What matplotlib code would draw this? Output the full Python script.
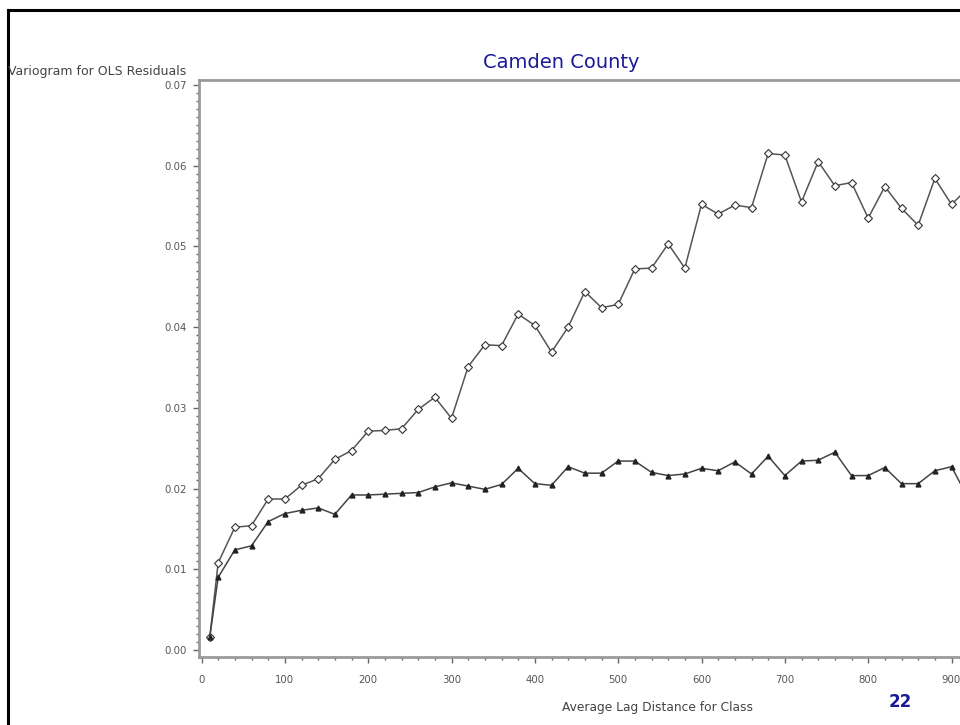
import matplotlib
matplotlib.use("Agg")
import matplotlib.pyplot as plt
from matplotlib.lines import Line2D
from matplotlib.ticker import MultipleLocator, FormatStrFormatter

W, H = 960, 725

lag = [10] + list(range(20, 940, 20))
ols_resid = [0.00165, 0.0108, 0.0152, 0.0154, 0.0187, 0.0187, 0.0204, 0.0212, 0.0236, 0.0247,
             0.0271, 0.0272, 0.0274, 0.0298, 0.0313, 0.0287, 0.0351, 0.0378, 0.0377, 0.0416,
             0.0402, 0.0369, 0.0400, 0.0444, 0.0424, 0.0428, 0.0472, 0.0473, 0.0503, 0.0473,
             0.0552, 0.0540, 0.0551, 0.0548, 0.0615, 0.0613, 0.0555, 0.0605, 0.0575, 0.0579,
             0.0535, 0.0574, 0.0547, 0.0526, 0.0584, 0.0552, 0.0572]
other_resid = [0.00165, 0.0090, 0.0124, 0.0129, 0.0159, 0.0169, 0.0173, 0.0176, 0.0168, 0.0192,
               0.0192, 0.0193, 0.0194, 0.0195, 0.0202, 0.0207, 0.0203, 0.0199, 0.0205, 0.0225,
               0.0206, 0.0204, 0.0227, 0.0219, 0.0219, 0.0234, 0.0234, 0.0220, 0.0216, 0.0218,
               0.0225, 0.0222, 0.0233, 0.0218, 0.0240, 0.0216, 0.0234, 0.0235, 0.0245, 0.0216,
               0.0216, 0.0226, 0.0206, 0.0206, 0.0222, 0.0227, 0.0188]

NAVY = "#1a1a99"
GREY_TXT = "#555555"

fig = plt.figure(figsize=(W / 100, H / 100), dpi=100)

# axes: left spine at x=199px, bottom at y=657px, top at y=80px; runs past the right edge
left, bottom, top = 199, 657, 80
ax = fig.add_axes([left / W, (H - bottom) / H, 780 / W, (bottom - top) / H])
ax.set_xlim(-3, 933)
ax.set_ylim(-0.00087, 0.0706)

ax.plot(lag, ols_resid, color="#555555", lw=1.1, marker="D", ms=4,
        mfc="white", mec="#333333", mew=0.8)
ax.plot(lag, other_resid, color="#444444", lw=1.1, marker="^", ms=3.5,
        mfc="#222222", mec="#222222")

ax.spines["right"].set_visible(False)
for side in ["left", "bottom", "top"]:
    ax.spines[side].set_color("#9a9a9a")
    ax.spines[side].set_linewidth(2)

ax.xaxis.set_major_locator(MultipleLocator(100))
ax.xaxis.set_minor_locator(MultipleLocator(20))
ax.yaxis.set_major_locator(MultipleLocator(0.01))
ax.yaxis.set_minor_locator(MultipleLocator(0.001))
ax.yaxis.set_major_formatter(FormatStrFormatter("%.2f"))
ax.tick_params(which="major", length=4, width=1, color="#666666",
               labelsize=7.3, labelcolor=GREY_TXT, pad=5)
ax.tick_params(which="minor", length=2.5, width=1, color="#666666")
ax.tick_params(axis="x", which="major", pad=9)

fig.text(8 / W, 1 - 72 / H, "Variogram for OLS Residuals", fontsize=9,
         color="#444444", ha="left", va="center")
fig.text(657 / W, 1 - 707 / H, "Average Lag Distance for Class", fontsize=8.8,
         color="#444444", ha="center", va="center")
fig.text(561 / W, 1 - 63 / H, "Camden County", fontsize=14, color=NAVY,
         ha="center", va="center")
fig.text(900 / W, 1 - 702 / H, "22", fontsize=12, color=NAVY, fontweight="bold",
         ha="center", va="center")

# slide frame
fig.add_artist(Line2D([8 / W, 8 / W], [0, 1 - 10 / H], color="black", lw=2.2,
                      transform=fig.transFigure))
fig.add_artist(Line2D([8 / W, 1], [1 - 10 / H, 1 - 10 / H], color="black", lw=2.2,
                      transform=fig.transFigure))

fig.savefig("out.png", dpi=100)
